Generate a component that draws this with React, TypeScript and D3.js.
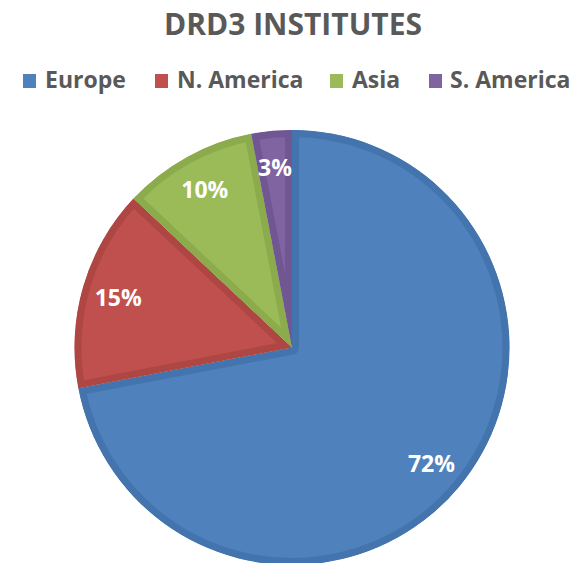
import React from "react";
import * as d3 from "d3";

const categories = ["Europe", "N. America", "Asia", "S. America"];
const values = [72, 15, 10, 3];
const fills = ["#4f81bd", "#c0504d", "#9bbb59", "#8064a2"];
const borders = ["#4474ad", "#ae4643", "#8cab4c", "#705693"];
const title = "DRD3 INSTITUTES";

const W = 584;
const H = 563;
const cx = 292;
const cy = 347.5;
const R = 217.5;

export default function App() {
  const pie = d3.pie<number>().sort(null).value((d) => d);
  const arcs = pie(values);
  const arc = d3.arc<d3.PieArcDatum<number>>().innerRadius(0).outerRadius(R);
  const labelArc = d3.arc<d3.PieArcDatum<number>>().innerRadius(181).outerRadius(181);

  const legendSq = [23, 155, 330, 429];
  const legendTx = [45, 177, 352, 450];
  const font = "'Open Sans', 'DejaVu Sans', sans-serif";

  return (
    <svg
      width={W}
      height={H}
      style={{ position: "absolute", left: 0, top: 0 }}
      fontFamily={font}
    >
      <rect width={W} height={H} fill="#ffffff" />
      <text x={293} y={35} textAnchor="middle" fontSize={30} fontWeight={700} fill="#595959">
        {title}
      </text>
      {categories.map((c, i) => (
        <g key={c}>
          <rect x={legendSq[i]} y={74} width={13} height={14} fill={fills[i]} />
          <text x={legendTx[i]} y={88} fontSize={23} fontWeight={700} fill="#595959">
            {c}
          </text>
        </g>
      ))}
      <defs>
        {arcs.map((a, i) => (
          <clipPath id={`clip${i}`} key={i}>
            <path d={arc(a) || ""} />
          </clipPath>
        ))}
      </defs>
      <g transform={`translate(${cx},${cy})`}>
        {arcs.map((a, i) => (
          <path
            key={i}
            d={arc(a) || ""}
            fill={fills[i]}
            stroke={borders[i]}
            strokeWidth={14}
            strokeLinejoin="round"
            clipPath={`url(#clip${i})`}
          />
        ))}
        {arcs.map((a, i) => {
          const [lx, ly] = labelArc.centroid(a);
          return (
            <text
              key={`t${i}`}
              x={lx}
              y={ly}
              textAnchor="middle"
              dominantBaseline="central"
              fontSize={23}
              fontWeight={700}
              fill="#ffffff"
            >
              {`${values[i]}%`}
            </text>
          );
        })}
      </g>
    </svg>
  );
}
